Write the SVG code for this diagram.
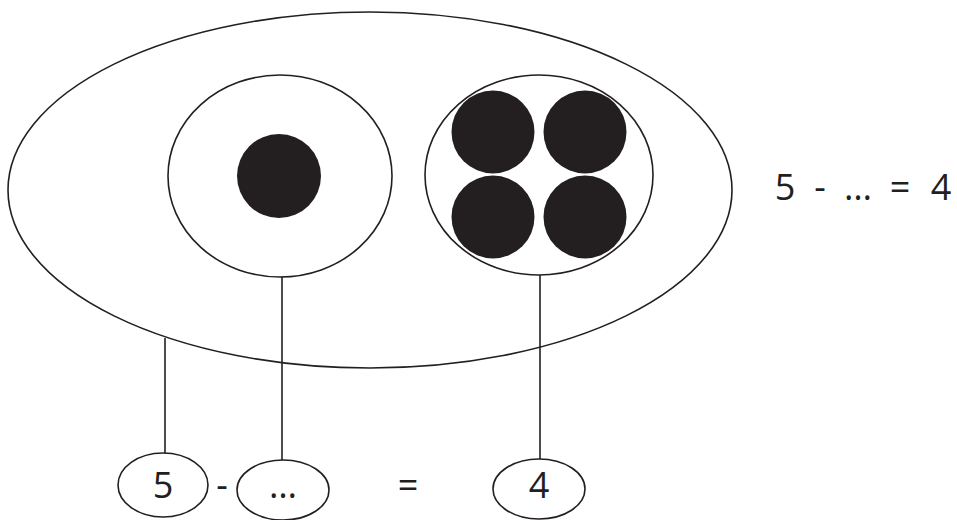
<svg xmlns="http://www.w3.org/2000/svg" width="957" height="520" viewBox="0 0 957 520">
<style>
.o{fill:none;stroke:#231f20;stroke-width:1.6}
.w{fill:#fff;stroke:#231f20;stroke-width:1.6}
.d{fill:#231f20}
.t{font-family:"Open Sans","Liberation Sans",sans-serif;font-size:36px;fill:#231f20}
.c{stroke:#231f20;stroke-width:1.6}
</style>
<rect width="957" height="520" fill="#fff"/>
<g id="whole"><ellipse class="o" cx="370" cy="190" rx="362" ry="178"/></g>
<g id="part1"><ellipse class="o" cx="280" cy="176" rx="112" ry="101"/><circle class="d" cx="279" cy="176" r="42"/></g>
<g id="part2"><ellipse class="o" cx="539" cy="175" rx="114" ry="100"/>
<circle class="d" cx="493" cy="132" r="41.5"/><circle class="d" cx="585" cy="132" r="41.5"/>
<circle class="d" cx="493" cy="217" r="41.5"/><circle class="d" cx="585" cy="217" r="41.5"/></g>
<g id="connectors">
<line class="c" x1="165" y1="338" x2="165" y2="454"/>
<line class="c" x1="282" y1="277" x2="282" y2="460"/>
<line class="c" x1="540" y1="275" x2="540" y2="460"/>
</g>
<g id="n5"><ellipse class="w" cx="163" cy="485" rx="45" ry="32"/><text class="t" x="163" y="498" text-anchor="middle">5</text></g>
<text class="t" x="222" y="498" text-anchor="middle">-</text>
<g id="ndots"><ellipse class="w" cx="283" cy="490" rx="46" ry="30"/><text class="t" x="283" y="498" text-anchor="middle">…</text></g>
<text class="t" x="408" y="498" text-anchor="middle">=</text>
<g id="n4"><ellipse class="w" cx="539" cy="489" rx="46" ry="30"/><text class="t" x="539" y="498" text-anchor="middle">4</text></g>
<g id="equation">
<text class="t" x="785" y="200" text-anchor="middle">5</text>
<text class="t" x="820" y="200" text-anchor="middle">-</text>
<text class="t" x="858" y="200" text-anchor="middle">…</text>
<text class="t" x="900" y="200" text-anchor="middle">=</text>
<text class="t" x="941" y="200" text-anchor="middle">4</text>
</g>
</svg>
